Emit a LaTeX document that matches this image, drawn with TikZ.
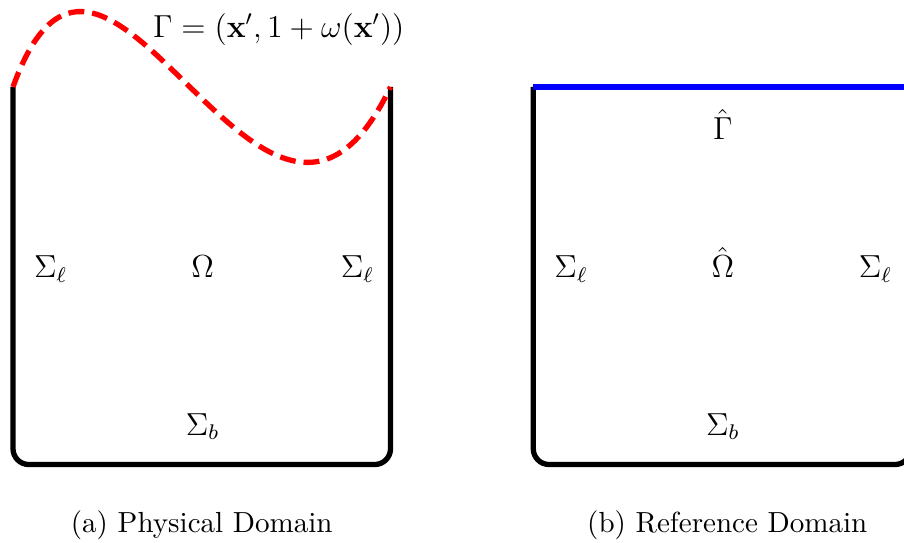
\documentclass[tikz,border=0pt,12pt]{standalone}
\usetikzlibrary{calc}
\begin{document}
\begin{tikzpicture}[
  wall/.style={line width=2pt, rounded corners=0.21cm},
  freesurf/.style={line width=2pt, red, dash pattern=on 6pt off 3pt},
  refsurf/.style={line width=2pt, blue},
  lbl/.style={inner sep=0pt, anchor=base},
  captext/.style={inner sep=0pt, anchor=base, font=\small},
]
\useasboundingbox (-0.172,-1.026) rectangle (11.80,6.152);
% physical domain
\coordinate (PA) at (0,5);
\coordinate (PB) at (5,5);
\draw[wall] (PA) -- (0,0) -- (5,0) -- (PB);
\draw[freesurf] (PA) .. controls (1.243,8.46) and (3.337,1.54) .. (PB);
\node[lbl, anchor=base west] (gam) at (1.85,5.66) {$\Gamma = (\mathbf{x}', 1 + \omega(\mathbf{x}'))$};
\node[lbl] (psl) at (0.50,2.48) {$\Sigma_\ell$};
\node[lbl] (pom) at (2.51,2.48) {$\Omega$};
\node[lbl] (psr) at (4.56,2.48) {$\Sigma_\ell$};
\node[lbl] (psb) at (2.51,0.39) {$\Sigma_b$};
\node[captext] (capa) at (2.50,-0.894) {(a) Physical Domain};
% reference domain
\coordinate (RA) at (6.89,5);
\coordinate (RB) at (11.89,5);
\draw[wall] (RA) -- (6.89,0) -- (11.89,0) -- (RB);
\draw[refsurf] (RA) -- (RB);
\node[lbl] (rga) at (9.40,4.30) {$\hat\Gamma$};
\node[lbl] (rsl) at (7.39,2.48) {$\Sigma_\ell$};
\node[lbl] (rom) at (9.40,2.48) {$\hat\Omega$};
\node[lbl] (rsr) at (11.42,2.48) {$\Sigma_\ell$};
\node[lbl] (rsb) at (9.40,0.39) {$\Sigma_b$};
\node[captext] (capb) at (9.46,-0.894) {(b) Reference Domain};
\end{tikzpicture}
\end{document}
